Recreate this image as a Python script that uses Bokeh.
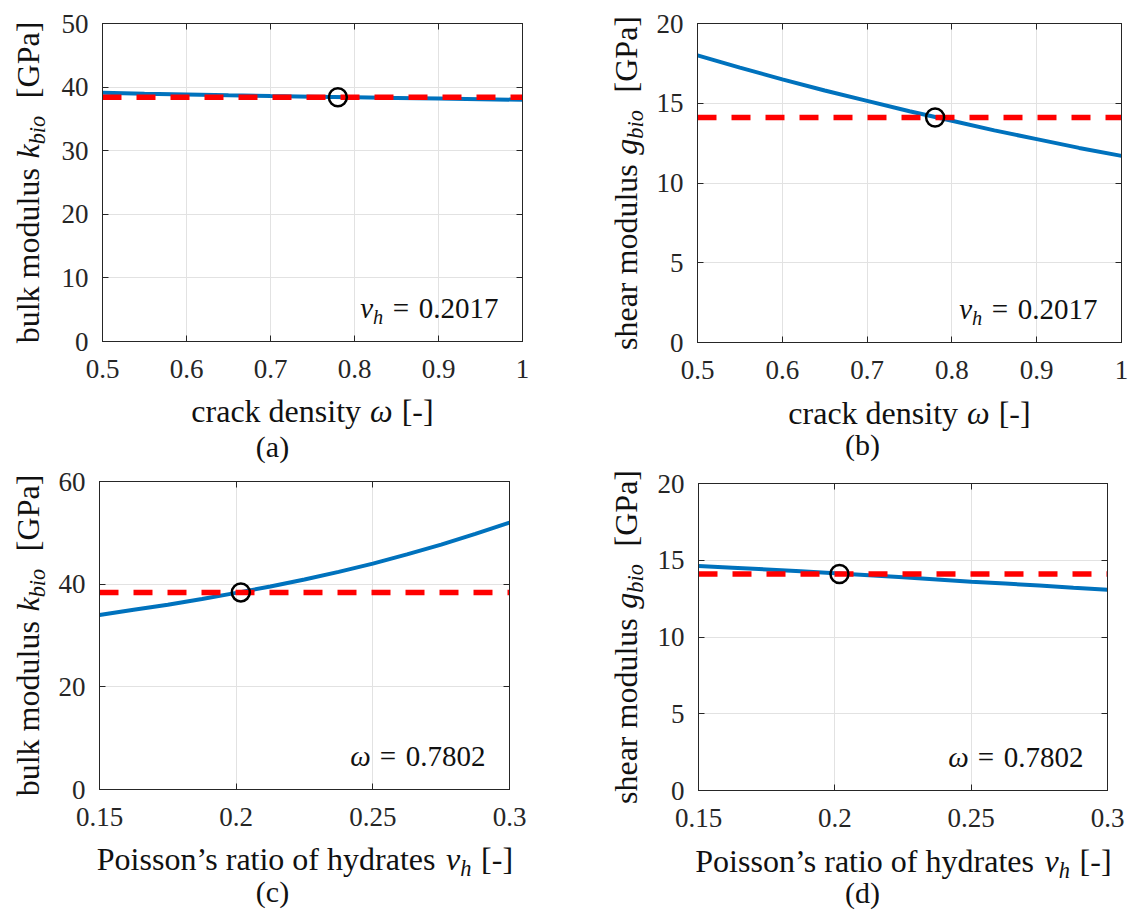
import math
from bokeh.plotting import figure
from bokeh.models import Range1d, FixedTicker, LinearAxis, Label, CustomJSTickFormatter
from bokeh.layouts import column, row
from bokeh.embed import file_html
from bokeh.resources import INLINE

# ---------------- data ----------------
omega = [0.5, 0.55, 0.6, 0.65, 0.7, 0.75, 0.8, 0.85, 0.9, 0.95, 1.0]
k_vs_omega = [39.1, 38.97, 38.85, 38.72, 38.6, 38.5, 38.4, 38.3, 38.2, 38.1, 38.0]
g_vs_omega = [18.0, 17.23, 16.5, 15.8, 15.15, 14.5, 13.9, 13.3, 12.75, 12.2, 11.7]

nu_h = [0.15, 0.1625, 0.175, 0.1875, 0.2, 0.2125, 0.225, 0.2375, 0.25, 0.2625, 0.275, 0.2875, 0.3]
k_vs_nu = [34.0, 35.0, 36.0, 37.1, 38.3, 39.55, 40.9, 42.4, 44.0, 45.8, 47.7, 49.8, 52.0]
g_vs_nu = [14.62, 14.51, 14.4, 14.28, 14.15, 14.03, 13.9, 13.75, 13.6, 13.48, 13.35, 13.21, 13.08]

k_ref = 38.4
g_ref = 14.1
omega_star = 0.7802
nu_star = 0.2017

omega_ticks = [0.5, 0.6, 0.7, 0.8, 0.9, 1]
nu_ticks = [0.15, 0.2, 0.25, 0.3]
k_ticks_a = [0, 10, 20, 30, 40, 50]
g_ticks = [0, 5, 10, 15, 20]
k_ticks_c = [0, 20, 40, 60]

# ---------------- styling helpers ----------------
FONT = "Liberation Serif"
AXC = "#262626"
TXT = "#111111"
BLUE = "#0072BD"
RED = "#FF0000"
F_TICK = 27
F_TITLE = 32
F_CAP = 30
F_ANN = 29
MID = 0.36   # distance from baseline to the text middle, in em

W_R = {' ': .25, 'a': .444, 'b': .5, 'c': .444, 'd': .5, 'e': .444, 'f': .333, 'g': .5,
       'h': .5, 'i': .278, 'k': .5, 'l': .278, 'm': .778, 'n': .5, 'o': .5, 'p': .5,
       'r': .333, 's': .389, 't': .278, 'u': .5, 'y': .5, 'G': .722, 'P': .556,
       '[': .333, ']': .333, '-': .333, '.': .25, '=': .564, '\u2019': .333,
       '(': .333, ')': .333, 'ω': .68, 'ν': .45}
W_I = {'k': .444, 'g': .5, 'b': .5, 'i': .278, 'o': .5, 'h': .5, 'ω': .67, 'ν': .45}


def tw(s, italic):
    t = W_I if italic else W_R
    return sum(t.get(ch, W_R.get(ch, .5)) for ch in s)


def seq_len(pieces, F):
    tot = 0.0
    for pc in pieces:
        if pc[0] is None:
            tot += pc[1] * F
        else:
            txt, it, sc, sh = pc
            tot += tw(txt, it) * sc * F
    return tot


def mk_label(txt, x, y, size, italic, angle=0.0):
    return Label(x=x, y=y, x_units="screen", y_units="screen", text=txt,
                 text_font=FONT, text_font_size=f"{size:.1f}px",
                 text_font_style="italic" if italic else "normal",
                 text_color=TXT, text_align="center", text_baseline="middle",
                 angle=angle)


def add_h(p, pieces, F, x_left, yb):
    """pieces laid left to right; yb = baseline (screen units, up from frame bottom)"""
    x = x_left
    for pc in pieces:
        if pc[0] is None:
            x += pc[1] * F
            continue
        txt, it, sc, sh = pc
        w = tw(txt, it) * sc * F
        p.add_layout(mk_label(txt, x + w / 2, yb - sh * F + MID * sc * F, F * sc, it))
        x += w


def add_v(p, pieces, F, xb, cy):
    """pieces rotated 90 deg, laid bottom to top; xb = baseline x, cy = centre y"""
    y = cy - seq_len(pieces, F) / 2
    for pc in pieces:
        if pc[0] is None:
            y += pc[1] * F
            continue
        txt, it, sc, sh = pc
        w = tw(txt, it) * sc * F
        p.add_layout(mk_label(txt, xb + sh * F - MID * sc * F, y + w / 2, F * sc, it,
                              angle=math.pi / 2))
        y += w


def blank(W, H):
    f = figure(width=W, height=H, x_range=Range1d(0, W), y_range=Range1d(0, H),
               output_backend="svg", toolbar_location=None, tools="",
               min_border_left=0, min_border_right=0, min_border_top=0, min_border_bottom=0,
               x_axis_location=None, y_axis_location=None, frame_align=False)
    f.outline_line_color = None
    f.xgrid.visible = False
    f.ygrid.visible = False
    f.background_fill_color = "white"
    f.border_fill_color = "white"
    return f


def make_fig(W, H, left, right, top, bottom, xr, yr, xt, yt):
    p = figure(width=W, height=H, x_range=Range1d(*xr), y_range=Range1d(*yr),
               output_backend="svg", toolbar_location=None, tools="",
               min_border_left=left, min_border_right=right,
               min_border_top=top, min_border_bottom=bottom, frame_align=False)
    p.background_fill_color = "white"
    p.border_fill_color = "white"
    p.outline_line_color = AXC
    p.outline_line_width = 1
    p.outline_line_alpha = 1.0

    xa = p.xaxis[0]
    ya = p.yaxis[0]
    xa.ticker = FixedTicker(ticks=xt)
    ya.ticker = FixedTicker(ticks=yt)
    xa.formatter = CustomJSTickFormatter(code="return tick.toString();")
    ya.formatter = CustomJSTickFormatter(code="return tick.toString();")
    for ax, so in ((xa, 18), (ya, 14)):
        ax.major_label_text_font = FONT
        ax.major_label_text_font_size = f"{F_TICK}px"
        ax.major_label_text_color = AXC
        ax.major_label_standoff = so
        ax.axis_line_color = AXC
        ax.major_tick_line_color = AXC
        ax.major_tick_in = 6
        ax.major_tick_out = 0
        ax.minor_tick_in = 0
        ax.minor_tick_out = 0
        ax.minor_tick_line_color = None

    for loc, tk in (("above", xt), ("right", yt)):
        ax = LinearAxis(ticker=FixedTicker(ticks=tk),
                        formatter=CustomJSTickFormatter(code="return '';"))
        ax.major_label_text_font_size = "0px"
        ax.major_label_standoff = 0
        ax.axis_line_color = AXC
        ax.major_tick_line_color = AXC
        ax.major_tick_in = 6
        ax.major_tick_out = 0
        ax.minor_tick_line_color = None
        p.add_layout(ax, loc)

    p.xgrid.ticker = FixedTicker(ticks=xt)
    p.ygrid.ticker = FixedTicker(ticks=yt)
    p.xgrid.grid_line_color = "#e2e2e2"
    p.ygrid.grid_line_color = "#e2e2e2"
    p.xgrid.grid_line_width = 1
    p.ygrid.grid_line_width = 1
    return p


def draw(p, x, y, ref, xs):
    p.line(x, y, line_color=BLUE, line_width=4)
    p.line([x[0], x[-1]], [ref, ref], line_color=RED, line_width=5.5, line_dash="19 15")
    p.scatter([xs], [ref], marker="circle", size=18, fill_color=None,
              line_color="black", line_width=2.5)


X_OMEGA = [("crack density", False, 1, 0), (None, .3), ("ω", True, 1, 0), (None, .3),
           ("[-]", False, 1, 0)]
X_NU = [("Poisson\u2019s ratio of hydrates", False, 1, 0), (None, .3), ("ν", True, 1, 0),
        ("h", True, .7, .2), (None, .3), ("[-]", False, 1, 0)]
Y_K = [("bulk modulus", False, 1, 0), (None, .3), ("k", True, 1, 0), ("bio", True, .7, .2),
       (None, .55), ("[GPa]", False, 1, 0)]
Y_G = [("shear modulus", False, 1, 0), (None, .3), ("g", True, 1, 0), ("bio", True, .7, .2),
       (None, .55), ("[GPa]", False, 1, 0)]
ANN_NU = [("ν", True, 1, 0), ("h", True, .7, .2), (None, .33), ("=", False, 1, 0),
          (None, .33), ("0.2017", False, 1, 0)]
ANN_OM = [("ω", True, 1, 0), (None, .33), ("=", False, 1, 0), (None, .33),
          ("0.7802", False, 1, 0)]


def panel(PW, PH, ylabW, LB, FW, TB, FH, BB, xr, yr, xt, yt, x, y, ref, xs,
          xpieces, ypieces, annpieces, caption, ytitle_x, xt_base, cap_base, cap_cx):
    RB = PW - ylabW - LB - FW
    HP = TB + FH + BB
    HB = PH - HP
    p = make_fig(LB + FW + RB, HP, LB, RB, TB, BB, xr, yr, xt, yt)
    draw(p, x, y, ref, xs)
    add_h(p, annpieces, F_ANN, FW - 24 - seq_len(annpieces, F_ANN), 23)

    yl = blank(ylabW, HP)
    add_v(yl, ypieces, F_TITLE, ytitle_x, HP - (TB + FH / 2))

    bt = blank(PW, HB)
    xc = ylabW + LB + FW / 2
    add_h(bt, xpieces, F_TITLE, xc - seq_len(xpieces, F_TITLE) / 2, xt_base)
    cap = [(caption, False, 1, 0)]
    add_h(bt, cap, F_CAP, cap_cx - seq_len(cap, F_CAP) / 2, cap_base)
    return column(row(yl, p), bt)


pa = panel(560, 467, 55, 47, 420, 23, 318, 50, (0.5, 1.0), (0, 50), omega_ticks, k_ticks_a,
           omega, k_vs_omega, k_ref, omega_star, X_OMEGA, Y_K, ANN_NU, "(a)",
           39, 45, 10, 272)
pb = panel(573, 467, 90, 47, 424, 23, 319, 50, (0.5, 1.0), (0, 20), omega_ticks, g_ticks,
           omega, g_vs_omega, g_ref, omega_star, X_OMEGA, Y_G, ANN_NU, "(b)",
           77, 43, 12, 302)
pc = panel(560, 445, 52, 47, 410, 14, 308, 50, (0.15, 0.3), (0, 60), nu_ticks, k_ticks_c,
           nu_h, k_vs_nu, k_ref, nu_star, X_NU, Y_K, ANN_OM, "(c)",
           39, 42, 10, 272)
pd = panel(573, 445, 91, 47, 409, 16, 307, 50, (0.15, 0.3), (0, 20), nu_ticks, g_ticks,
           nu_h, g_vs_nu, g_ref, nu_star, X_NU, Y_G, ANN_OM, "(d)",
           77, 40, 9, 302)

layout = column(row(pa, pb), row(pc, pd))
open("out.html", "w").write(file_html(layout, INLINE))
